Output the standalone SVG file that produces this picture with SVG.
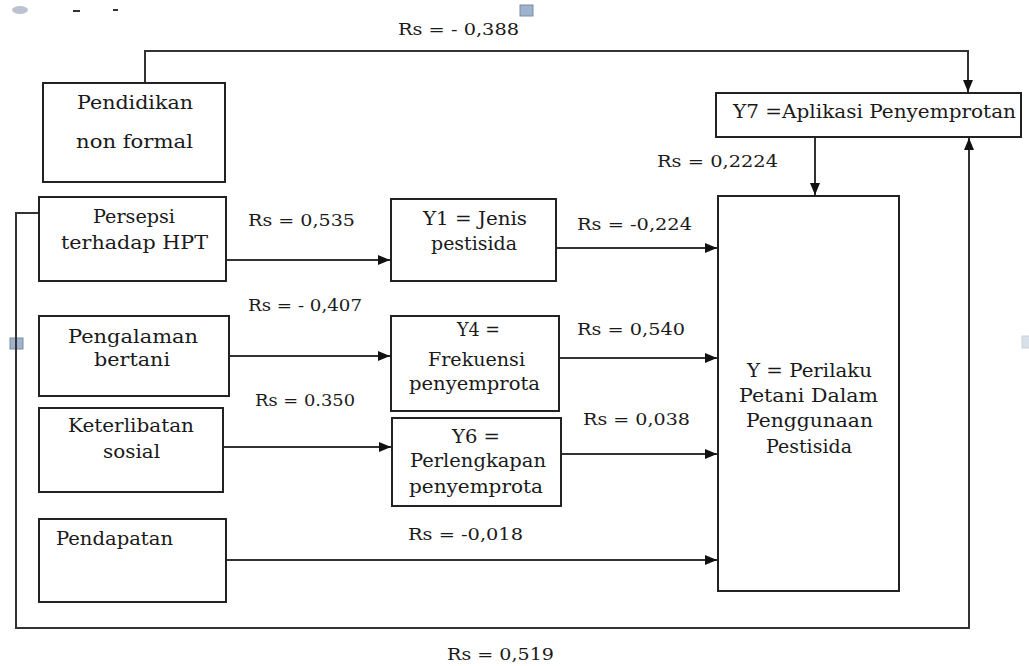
<svg xmlns="http://www.w3.org/2000/svg" width="1029" height="666" viewBox="0 0 1029 666">
<style>
.box{fill:#fff;stroke:#222;stroke-width:2}
.t{font-family:"DejaVu Serif","Liberation Serif",serif;font-size:18px;fill:#1a1a1a}
.r{font-family:"DejaVu Serif","Liberation Serif",serif;font-size:17px;fill:#1a1a1a}
.c{fill:none;stroke:#333;stroke-width:2}
.h{fill:#9fb3cc;stroke:#7a8ca3;stroke-width:1}
</style>
<defs>
<marker id="ar" markerUnits="userSpaceOnUse" markerWidth="14" markerHeight="10" refX="12" refY="5" orient="auto">
<path d="M0,0 L12,5 L0,10 Z" fill="#111"/>
</marker>
</defs>
<rect width="1029" height="666" fill="#fff"/>
<g id="artifacts">
<ellipse cx="20" cy="10" rx="8" ry="4" fill="#8d9bb0" opacity="0.6"/>
<line x1="73" y1="11" x2="80" y2="11" stroke="#333" stroke-width="2"/>
<line x1="113" y1="10" x2="118" y2="10" stroke="#333" stroke-width="2"/>
<rect class="h" x="520" y="5" width="13" height="11"/>
<rect class="h" x="10" y="338" width="13" height="11"/>
<rect class="h" x="1022" y="336" width="8" height="12" opacity="0.4"/>
</g>
<g id="connectors">
<path class="c" d="M145,83 V51 H968 V92" marker-end="url(#ar)"/>
<path class="c" d="M815,137 V195" marker-end="url(#ar)"/>
<path class="c" d="M39,213 H16 V628 H969 V138" marker-end="url(#ar)"/>
<path class="c" d="M226,260 H390" marker-end="url(#ar)"/>
<path class="c" d="M229,356 H390" marker-end="url(#ar)"/>
<path class="c" d="M223,447 H391" marker-end="url(#ar)"/>
<path class="c" d="M556,248 H717" marker-end="url(#ar)"/>
<path class="c" d="M559,358 H717" marker-end="url(#ar)"/>
<path class="c" d="M561,454 H717" marker-end="url(#ar)"/>
<path class="c" d="M226,560 H717" marker-end="url(#ar)"/>
<text class="r" x="398" y="35" textLength="121" lengthAdjust="spacingAndGlyphs">Rs = - 0,388</text>
<text class="r" x="657" y="167" textLength="121" lengthAdjust="spacingAndGlyphs">Rs = 0,2224</text>
<text class="r" x="248" y="226" textLength="107" lengthAdjust="spacingAndGlyphs">Rs = 0,535</text>
<text class="r" x="577" y="230" textLength="115" lengthAdjust="spacingAndGlyphs">Rs = -0,224</text>
<text class="r" x="248" y="311" textLength="114" lengthAdjust="spacingAndGlyphs">Rs = - 0,407</text>
<text class="r" x="577" y="335" textLength="108" lengthAdjust="spacingAndGlyphs">Rs = 0,540</text>
<text class="r" x="255" y="406" textLength="100" lengthAdjust="spacingAndGlyphs">Rs = 0.350</text>
<text class="r" x="583" y="425" textLength="107" lengthAdjust="spacingAndGlyphs">Rs = 0,038</text>
<text class="r" x="408" y="540" textLength="115" lengthAdjust="spacingAndGlyphs">Rs = -0,018</text>
<text class="r" x="447" y="660" textLength="107" lengthAdjust="spacingAndGlyphs">Rs = 0,519</text>
</g>
<g id="pendidikan">
<rect class="box" x="43" y="83" width="182" height="99"/>
<text class="t" x="77" y="109" textLength="116" lengthAdjust="spacingAndGlyphs">Pendidikan</text>
<text class="t" x="76" y="148" textLength="117" lengthAdjust="spacingAndGlyphs">non formal</text>
</g>
<g id="persepsi">
<rect class="box" x="39" y="197" width="187" height="84"/>
<text class="t" x="93" y="223" textLength="82" lengthAdjust="spacingAndGlyphs">Persepsi</text>
<text class="t" x="61" y="249" textLength="147" lengthAdjust="spacingAndGlyphs">terhadap HPT</text>
</g>
<g id="pengalaman">
<rect class="box" x="39" y="316" width="190" height="80"/>
<text class="t" x="68" y="343" textLength="130" lengthAdjust="spacingAndGlyphs">Pengalaman</text>
<text class="t" x="94" y="366" textLength="76" lengthAdjust="spacingAndGlyphs">bertani</text>
</g>
<g id="keterlibatan">
<rect class="box" x="39" y="408" width="184" height="84"/>
<text class="t" x="68" y="432" textLength="126" lengthAdjust="spacingAndGlyphs">Keterlibatan</text>
<text class="t" x="103" y="458" textLength="57" lengthAdjust="spacingAndGlyphs">sosial</text>
</g>
<g id="pendapatan">
<rect class="box" x="39" y="519" width="187" height="83"/>
<text class="t" x="56" y="545" textLength="117" lengthAdjust="spacingAndGlyphs">Pendapatan</text>
</g>
<g id="y1">
<rect class="box" x="391" y="199" width="165" height="82"/>
<text class="t" x="423" y="225" textLength="104" lengthAdjust="spacingAndGlyphs">Y1 = Jenis</text>
<text class="t" x="431" y="250" textLength="86" lengthAdjust="spacingAndGlyphs">pestisida</text>
</g>
<g id="y4">
<rect class="box" x="391" y="316" width="168" height="95"/>
<text class="t" x="457" y="336" textLength="43" lengthAdjust="spacingAndGlyphs">Y4 =</text>
<text class="t" x="428" y="366" textLength="97" lengthAdjust="spacingAndGlyphs">Frekuensi</text>
<text class="t" x="409" y="390" textLength="131" lengthAdjust="spacingAndGlyphs">penyemprota</text>
</g>
<g id="y6">
<rect class="box" x="392" y="418" width="169" height="88"/>
<text class="t" x="452" y="443" textLength="48" lengthAdjust="spacingAndGlyphs">Y6 =</text>
<text class="t" x="410" y="467" textLength="136" lengthAdjust="spacingAndGlyphs">Perlengkapan</text>
<text class="t" x="409" y="493" textLength="134" lengthAdjust="spacingAndGlyphs">penyemprota</text>
</g>
<g id="y7">
<rect class="box" x="716" y="93" width="305" height="44"/>
<text class="t" x="733" y="118" textLength="283" lengthAdjust="spacingAndGlyphs">Y7 =Aplikasi Penyemprotan</text>
</g>
<g id="y">
<rect class="box" x="718" y="196" width="181" height="395"/>
<text class="t" x="747" y="377" textLength="125" lengthAdjust="spacingAndGlyphs">Y = Perilaku</text>
<text class="t" x="739" y="402" textLength="139" lengthAdjust="spacingAndGlyphs">Petani Dalam</text>
<text class="t" x="746" y="427" textLength="127" lengthAdjust="spacingAndGlyphs">Penggunaan</text>
<text class="t" x="766" y="453" textLength="86" lengthAdjust="spacingAndGlyphs">Pestisida</text>
</g>
</svg>
